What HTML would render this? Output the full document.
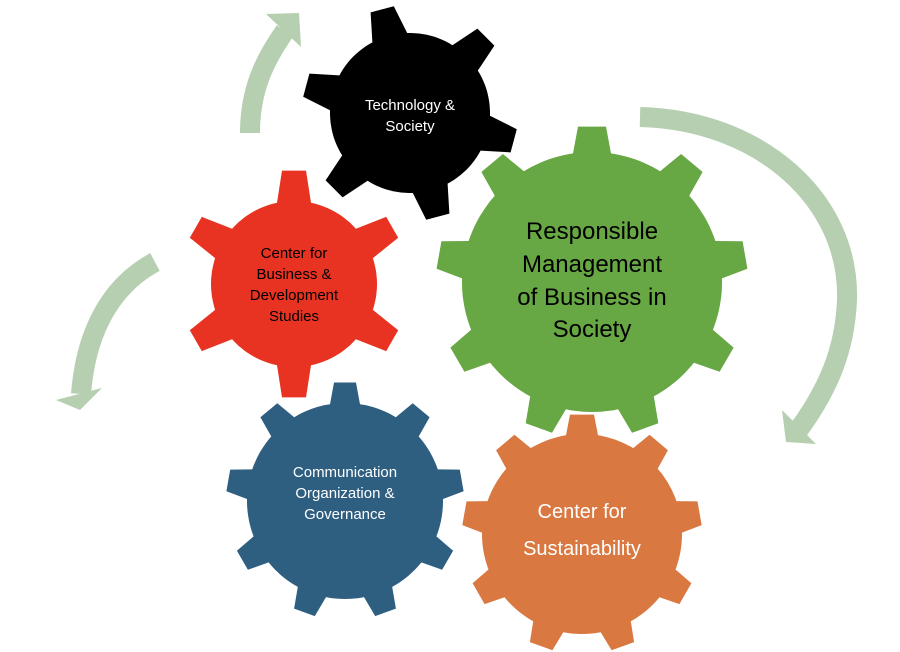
<!DOCTYPE html>
<html><head><meta charset="utf-8"><style>
html,body{margin:0;padding:0;background:#fff;}
svg{display:block;}
text{font-family:"Liberation Sans",sans-serif;text-anchor:middle;}
</style></head><body>
<svg id="s" width="900" height="652" viewBox="0 0 900 652" xmlns="http://www.w3.org/2000/svg">
<g fill="none" stroke="#b6cfb1" stroke-width="20">
<path d="M250,133 C250,92 263,62 285,31"/>
<path d="M155,262 C112,285 86,330 81,394"/>
<path d="M640,117 C760,120 850,200 847,300 C845,350 828,390 797,432"/>
</g>
<g fill="#b6cfb1">
<polygon points="266,14 299,13 301,47"/>
<polygon points="56,400 102,388 80,410"/>
<polygon points="782,410 816,444 786,442"/>
</g>
<g id="gears"></g>
<text x="410" y="110" fill="#fff" font-size="15">Technology &amp;</text>
<text x="410" y="131" fill="#fff" font-size="15">Society</text>
<text x="294" y="258" fill="#000" font-size="15">Center for</text>
<text x="294" y="279" fill="#000" font-size="15">Business &amp;</text>
<text x="294" y="300" fill="#000" font-size="15">Development</text>
<text x="294" y="321" fill="#000" font-size="15">Studies</text>
<text x="592" y="239" fill="#000" font-size="24">Responsible</text>
<text x="592" y="272" fill="#000" font-size="24">Management</text>
<text x="592" y="305" fill="#000" font-size="24">of Business in</text>
<text x="592" y="337" fill="#000" font-size="24">Society</text>
<text x="345" y="477" fill="#fff" font-size="15">Communication</text>
<text x="345" y="498" fill="#fff" font-size="15">Organization &amp;</text>
<text x="345" y="519" fill="#fff" font-size="15">Governance</text>
<text x="582" y="518" fill="#fff" font-size="20">Center for</text>
<text x="582" y="555" fill="#fff" font-size="20">Sustainability</text>
</svg>
<script>
function gear(cx,cy,n,off,R,Rt,th,bh,col){
  var pts=[],step=360/n;
  var hb=Math.asin(bh/R)*180/Math.PI, ht=Math.asin(th/Rt)*180/Math.PI;
  function P(r,a){var t=(a-90)*Math.PI/180;pts.push((cx+r*Math.cos(t)).toFixed(1)+","+(cy+r*Math.sin(t)).toFixed(1));}
  for(var i=0;i<n;i++){
    var a=off+i*step;
    P(R,a-hb);P(Rt,a-ht);P(Rt,a+ht);P(R,a+hb);
    var s=a+hb,e=a+step-hb;
    for(var k=1;k<12;k++)P(R,s+(e-s)*k/12);
  }
  var p=document.createElementNS("http://www.w3.org/2000/svg","polygon");
  p.setAttribute("points",pts.join(" "));p.setAttribute("fill",col);
  document.getElementById("gears").appendChild(p);
}
gear(410,113,6,-15,80,108,12,18,"#000000");
gear(294,284,6,0,83,114,12,17,"#e83323");
gear(592,282,9,0,130,156,14,19,"#67a744");
gear(345,501,9,0,98,119,11,15,"#2e5e80");
gear(582,534,9,0,100,120,12,16,"#d97941");
</script>
</body></html>
